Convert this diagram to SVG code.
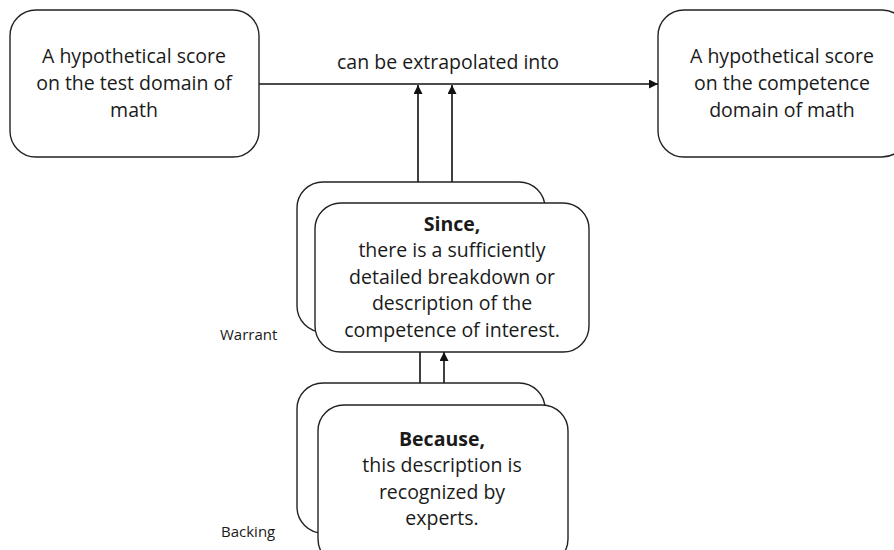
<svg xmlns="http://www.w3.org/2000/svg" width="894" height="550" viewBox="0 0 894 550">
  <defs>
    <marker id="arrow" viewBox="0 0 10 10" refX="10" refY="5" markerWidth="9" markerHeight="9" markerUnits="userSpaceOnUse" orient="auto">
      <path d="M0,0 L10,5 L0,10 z" fill="#111"/>
    </marker>
  </defs>
  <style>
    .box { fill: #fff; stroke: #222; stroke-width: 1.4; }
    .txt { font-family: "Open Sans", "DejaVu Sans", sans-serif; font-size: 19.5px; fill: #1a1a1a; text-anchor: middle; }
    .bold { font-weight: bold; }
    .lbl { font-family: "Open Sans", "DejaVu Sans", sans-serif; font-size: 15px; fill: #1a1a1a; }
    .edge { fill: none; stroke: #111; stroke-width: 1.6; }
  </style>
  <rect width="894" height="550" fill="#fff"/>

  <!-- connectors -->
  <g id="connectors">
    <line class="edge" x1="259" y1="84" x2="658" y2="84" marker-end="url(#arrow)"/>
    <line class="edge" x1="418" y1="182" x2="418" y2="85" marker-end="url(#arrow)"/>
    <line class="edge" x1="452" y1="203" x2="452" y2="85" marker-end="url(#arrow)"/>
    <line class="edge" x1="420" y1="383" x2="420" y2="352"/>
    <line class="edge" x1="444" y1="405" x2="444" y2="352" marker-end="url(#arrow)"/>
    <text class="txt" x="448" y="69">can be extrapolated into</text>
  </g>

  <!-- data -->
  <g id="test-score">
    <rect class="box" x="10" y="10" width="249" height="147" rx="26"/>
    <text class="txt" x="134" y="63">A hypothetical score</text>
    <text class="txt" x="134" y="90">on the test domain of</text>
    <text class="txt" x="134" y="117">math</text>
  </g>

  <!-- claim -->
  <g id="competence-score">
    <rect class="box" x="658" y="10" width="250" height="147" rx="26"/>
    <text class="txt" x="782" y="63">A hypothetical score</text>
    <text class="txt" x="782" y="90">on the competence</text>
    <text class="txt" x="782" y="117">domain of math</text>
  </g>

  <!-- warrant -->
  <g id="warrant">
    <rect class="box" x="297" y="182" width="248" height="150" rx="26"/>
    <rect class="box" x="315" y="203" width="274" height="149" rx="26"/>
    <text class="txt bold" x="452" y="231">Since,</text>
    <text class="txt" x="452" y="257">there is a sufficiently</text>
    <text class="txt" x="452" y="284">detailed breakdown or</text>
    <text class="txt" x="452" y="310">description of the</text>
    <text class="txt" x="452" y="337">competence of interest.</text>
    <text class="lbl" x="220" y="340">Warrant</text>
  </g>

  <!-- backing -->
  <g id="backing">
    <rect class="box" x="297" y="383" width="248" height="150" rx="26"/>
    <rect class="box" x="318" y="405" width="250" height="160" rx="26"/>
    <text class="txt bold" x="442" y="446">Because,</text>
    <text class="txt" x="442" y="472">this description is</text>
    <text class="txt" x="442" y="499">recognized by</text>
    <text class="txt" x="442" y="525">experts.</text>
    <text class="lbl" x="221" y="537">Backing</text>
  </g>
</svg>
